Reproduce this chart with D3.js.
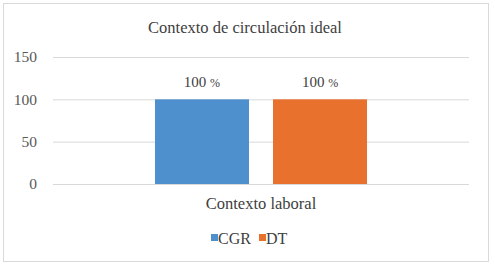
<!DOCTYPE html>
<html>
<head>
<meta charset="utf-8">
<script src="https://cdn.jsdelivr.net/npm/d3@7"></script>
<style>
  body { margin: 0; background: #fff; }
</style>
</head>
<body>
<div id="chart-area"></div>
<script>
// Data
var categories = ["Contexto laboral"];
var seriesNames = ["CGR", "DT"];
var seriesColors = ["#4e8fcd", "#e9712e"];
var values = [100, 100];
var yTicks = [0, 50, 100, 150];

var W = 495, H = 267;
var plot = {left: 53, right: 469, top: 57, bottom: 184};
var FONT = "'Liberation Serif', 'Times New Roman', serif";

var svg = d3.select("#chart-area")
    .append("svg")
    .attr("width", W)
    .attr("height", H)
    .style("font-family", FONT);

// outer frame
svg.append("rect")
    .attr("x", 3.5).attr("y", 3.5)
    .attr("width", 485).attr("height", 258)
    .attr("fill", "#fff")
    .attr("stroke", "#d9d9d9");

// Scales
var yScale = d3.scaleLinear()
    .domain([0, 150])
    .range([plot.bottom, plot.top]);

var x0 = d3.scaleBand()
    .domain(categories)
    .range([plot.left, plot.right])
    .paddingInner(0)
    .paddingOuter(0.481);

var x1 = d3.scaleBand()
    .domain(seriesNames)
    .range([0, x0.bandwidth()])
    .paddingInner(0.2034)
    .paddingOuter(0);

// Y axis with gridlines
var yAxis = svg.append("g")
    .attr("transform", "translate(" + plot.left + ",0)")
    .call(d3.axisLeft(yScale)
        .tickValues(yTicks)
        .tickSize(-(plot.right - plot.left))
        .tickPadding(16));
yAxis.attr("font-family", null).attr("font-size", null);
yAxis.select(".domain").remove();
yAxis.selectAll(".tick line").attr("stroke", "#d9d9d9");
yAxis.selectAll(".tick text")
    .attr("fill", "#595959")
    .style("font-size", "15.5px");

// Bars
var group = svg.append("g")
    .attr("transform", "translate(" + x0(categories[0]) + ",0)");

group.selectAll("rect")
    .data(seriesNames)
    .enter()
    .append("rect")
    .attr("x", d => x1(d))
    .attr("y", (d, i) => yScale(values[i]))
    .attr("width", x1.bandwidth())
    .attr("height", (d, i) => yScale(0) - yScale(values[i]))
    .attr("fill", (d, i) => seriesColors[i]);

// Value labels
var lbl = group.selectAll("text.val")
    .data(seriesNames)
    .enter()
    .append("text")
    .attr("class", "val")
    .attr("x", d => x1(d) + x1.bandwidth() / 2)
    .attr("y", (d, i) => yScale(values[i]) - 12)
    .attr("text-anchor", "middle")
    .attr("fill", "#404040")
    .style("font-size", "15px");
lbl.append("tspan").text((d, i) => values[i] + " ");
lbl.append("tspan").style("font-size", "12px").text("%");

// Title
svg.append("text")
    .attr("x", 245)
    .attr("y", 33)
    .attr("text-anchor", "middle")
    .attr("fill", "#404040")
    .style("font-size", "16.5px")
    .text("Contexto de circulación ideal");

// Category label
svg.append("text")
    .attr("x", x0(categories[0]) + x0.bandwidth() / 2)
    .attr("y", 209)
    .attr("text-anchor", "middle")
    .attr("fill", "#404040")
    .style("font-size", "16.5px")
    .text(categories[0]);

// Legend
var legendX = [211, 259];
var legend = svg.selectAll("g.legend")
    .data(seriesNames)
    .enter()
    .append("g")
    .attr("class", "legend")
    .attr("transform", (d, i) => "translate(" + legendX[i] + ",234)");
legend.append("rect")
    .attr("width", 7).attr("height", 7)
    .attr("fill", (d, i) => seriesColors[i]);
legend.append("text")
    .attr("x", 7)
    .attr("y", 9.5)
    .attr("fill", "#404040")
    .style("font-size", "16px")
    .text(d => d);
</script>
</body>
</html>
